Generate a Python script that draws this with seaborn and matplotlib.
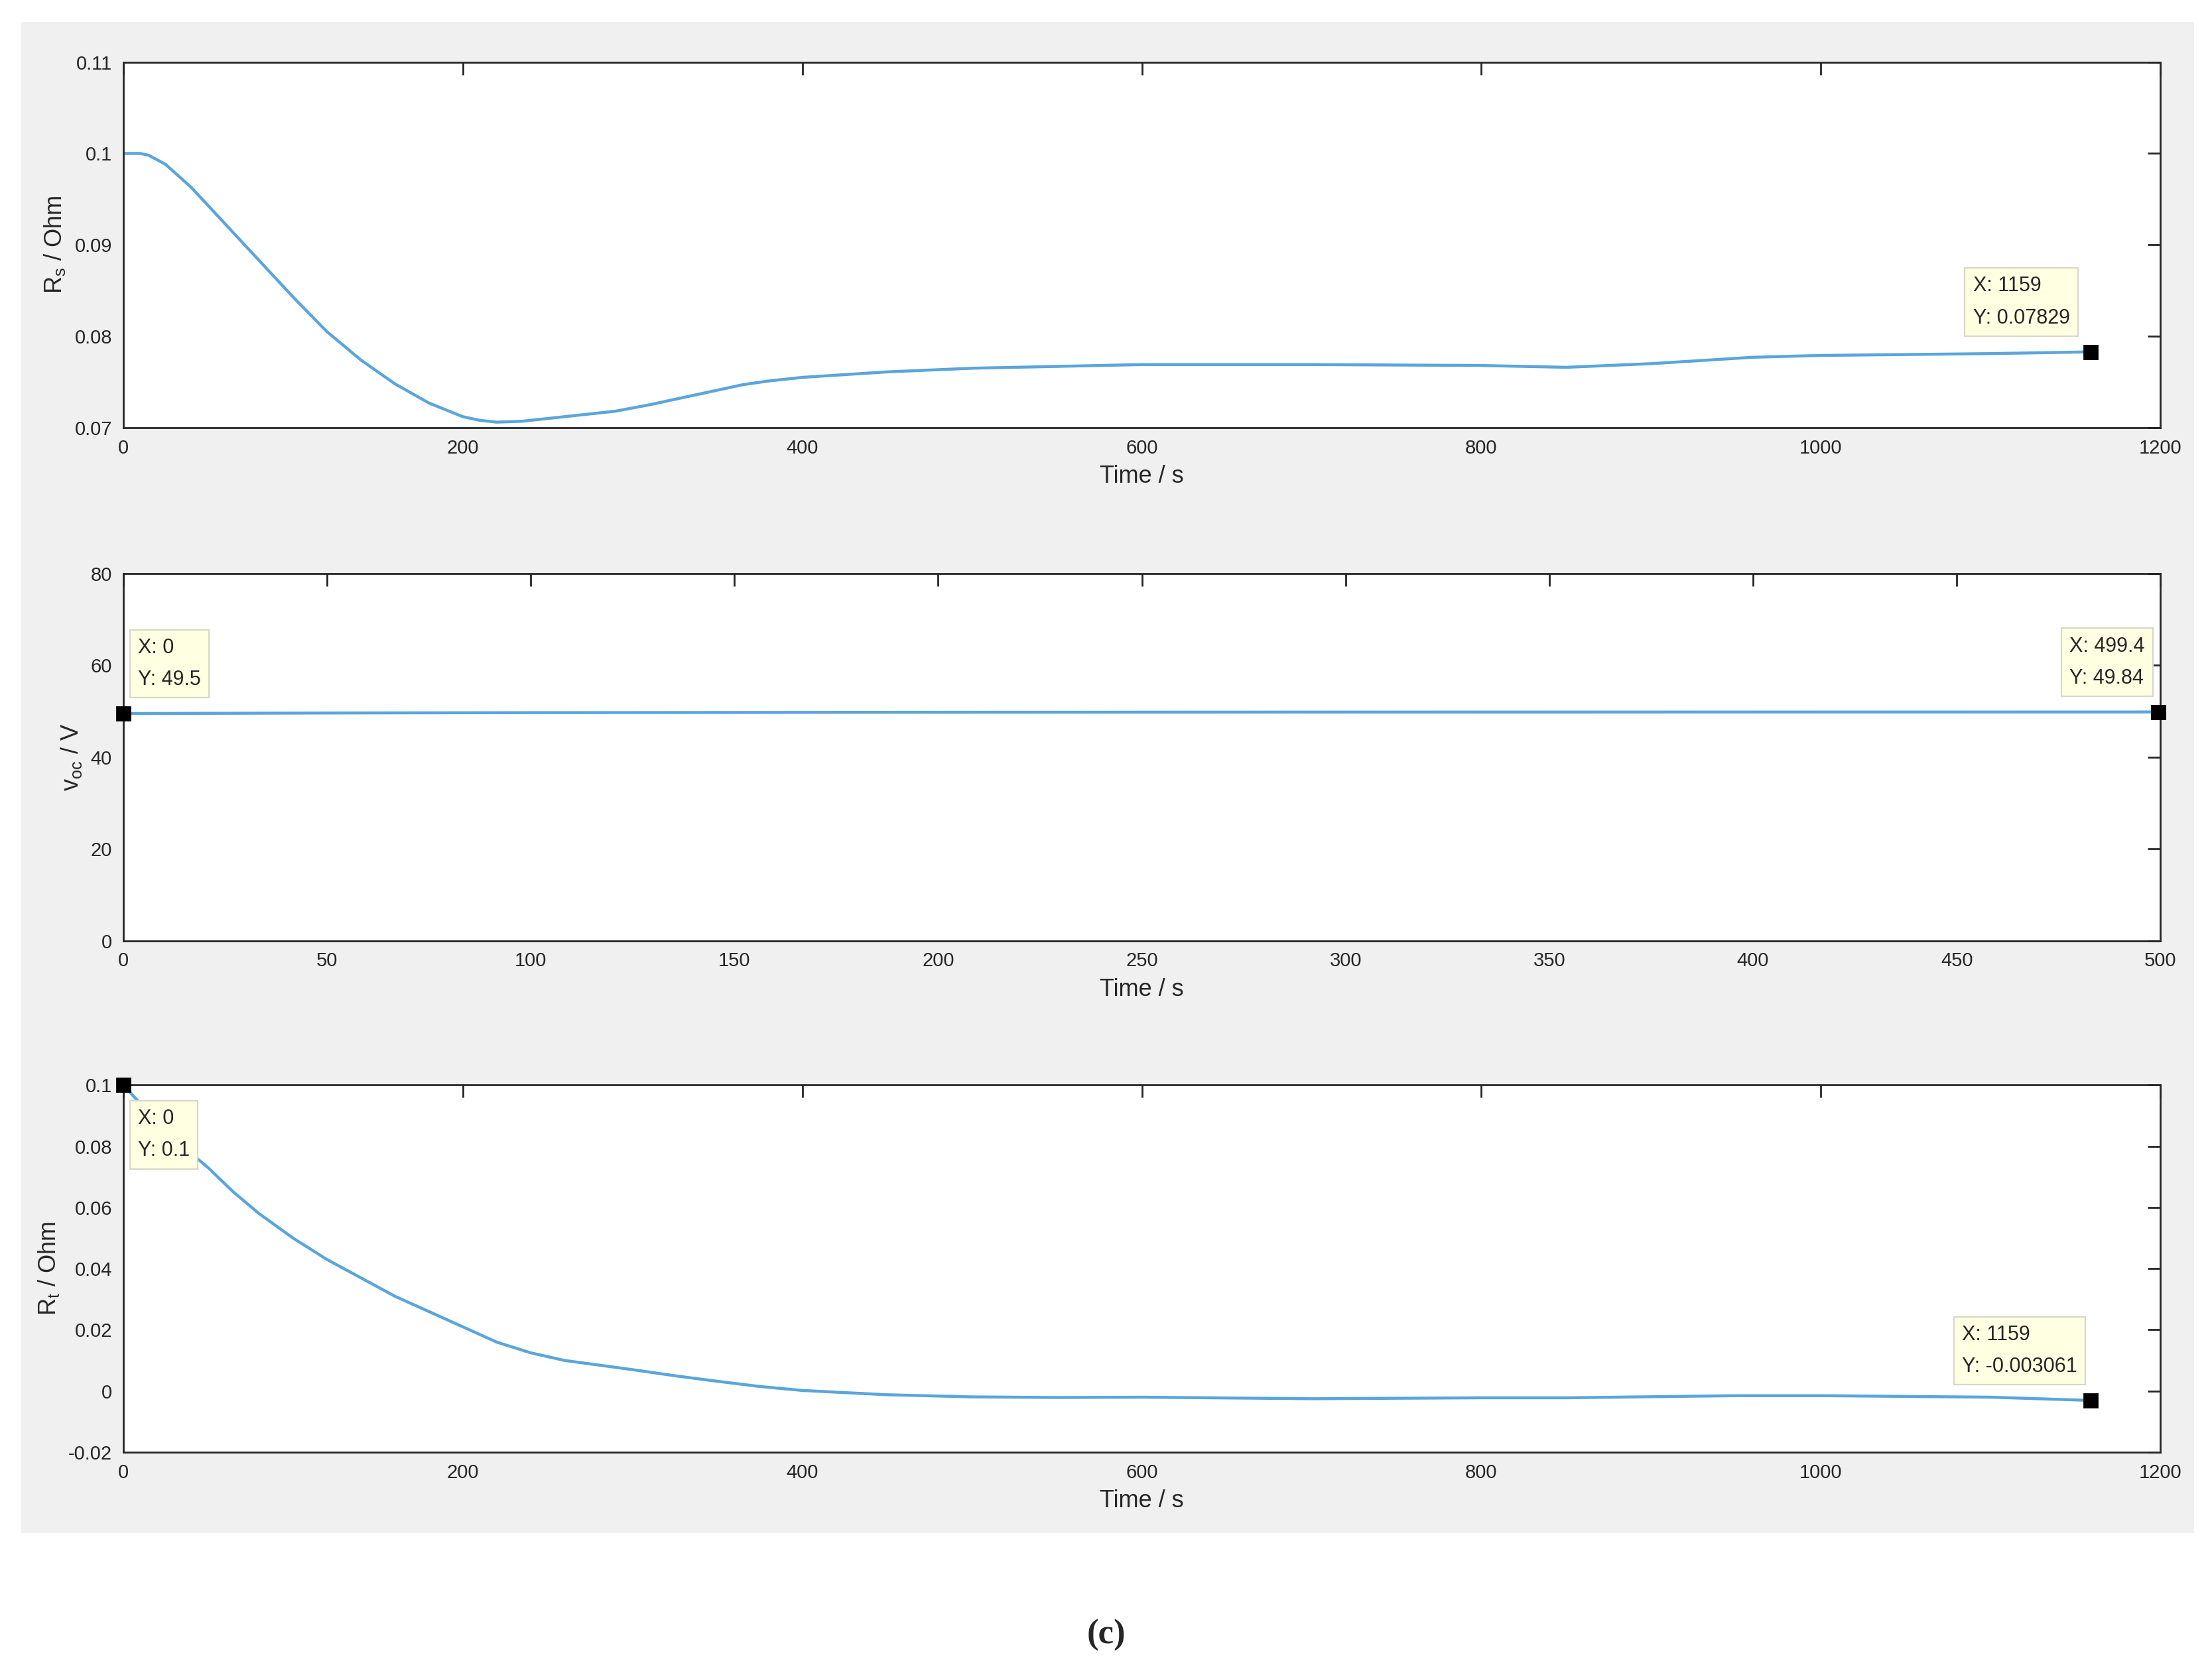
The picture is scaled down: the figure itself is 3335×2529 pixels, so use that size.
# Three stacked MATLAB-style parameter plots (Rs, voc, Rt vs time)
import numpy as np
import pandas as pd
import seaborn as sns
import matplotlib.pyplot as plt
from matplotlib.patches import Rectangle
from matplotlib.ticker import FuncFormatter

# Data
rs_time = [0, 10, 15, 25, 40, 60, 80, 100, 120, 140, 160, 180, 200, 210, 220, 235, 250,
           270, 290, 310, 330, 350, 365, 380, 400, 450, 500, 600, 700, 800, 850, 900,
           960, 1000, 1100, 1159]
rs_val = [0.1, 0.1, 0.0998, 0.0988, 0.0963, 0.0923, 0.0883, 0.0843, 0.0805, 0.0774,
          0.0748, 0.0727, 0.0712, 0.0708, 0.0706, 0.0707, 0.0710, 0.0714, 0.0718, 0.0725,
          0.0733, 0.0741, 0.0747, 0.0751, 0.0755, 0.0761, 0.0765, 0.0769, 0.0769, 0.0768,
          0.0766, 0.0770, 0.0777, 0.0779, 0.0781, 0.07829]

voc_time = [0, 50, 100, 200, 300, 400, 499.4]
voc_val = [49.5, 49.62, 49.7, 49.78, 49.82, 49.83, 49.84]

rt_time = [0, 10, 20, 35, 50, 65, 80, 100, 120, 140, 160, 180, 200, 220, 240, 260, 280,
           300, 325, 350, 375, 400, 450, 500, 550, 600, 700, 800, 850, 950, 1000, 1100,
           1159]
rt_val = [0.1, 0.094, 0.088, 0.080, 0.073, 0.065, 0.058, 0.050, 0.043, 0.037, 0.031,
          0.026, 0.021, 0.016, 0.0125, 0.010, 0.0085, 0.007, 0.005, 0.0032, 0.0015,
          0.0002, -0.0012, -0.0019, -0.0021, -0.002, -0.0025, -0.0022, -0.0022,
          -0.0015, -0.0015, -0.002, -0.003061]

sns.set_style("white")
plt.rcParams['font.family'] = ['Liberation Sans', 'DejaVu Sans']
plt.rcParams['mathtext.default'] = 'regular'

line_color = "#5aa5dc"
tip_fc = "#ffffe1"

fig = plt.figure(figsize=(16.675, 12.645), dpi=200)
fig.patches.append(Rectangle((0.0096, 0.086), 0.9824, 0.901, transform=fig.transFigure,
                             facecolor="#f0f0f0", edgecolor="none", zorder=-1))

panels = [
    dict(t=rs_time, v=rs_val, rect=[0.0557, 0.745, 0.921, 0.218], xlim=(0, 1200),
         xticks=np.arange(0, 1201, 200), ylim=(0.07, 0.11), yticks=np.arange(0.07, 0.111, 0.01),
         ylabel="R$_s$ / Ohm",
         tips=[(1159, 0.07829, "X: 1159\nY: 0.07829", (-64, 27))]),
    dict(t=voc_time, v=voc_val, rect=[0.0557, 0.439, 0.921, 0.219], xlim=(0, 500),
         xticks=np.arange(0, 501, 50), ylim=(0, 80), yticks=np.arange(0, 81, 20),
         ylabel="v$_{oc}$ / V",
         tips=[(0, 49.5, "X: 0\nY: 49.5", (8, 27)),
               (499.4, 49.84, "X: 499.4\nY: 49.84", (-48, 27))]),
    dict(t=rt_time, v=rt_val, rect=[0.0557, 0.134, 0.921, 0.219], xlim=(0, 1200),
         xticks=np.arange(0, 1201, 200), ylim=(-0.02, 0.1), yticks=np.arange(-0.02, 0.101, 0.02),
         ylabel="R$_t$ / Ohm",
         tips=[(0, 0.1, "X: 0\nY: 0.1", (8, -27)),
               (1159, -0.003061, "X: 1159\nY: -0.003061", (-70, 27))]),
]

for p in panels:
    ax = fig.add_axes(p["rect"])
    df = pd.DataFrame({"t": p["t"], "v": p["v"]})
    sns.lineplot(data=df, x="t", y="v", ax=ax, color=line_color, linewidth=1.6)
    ax.set_xlim(*p["xlim"])
    ax.set_ylim(*p["ylim"])
    ax.set_xticks(p["xticks"])
    ax.set_yticks(p["yticks"])
    ax.yaxis.set_major_formatter(FuncFormatter(lambda v, _: "%g" % round(v, 4)))
    ax.tick_params(direction="in", top=True, right=True, length=7, width=1,
                   labelsize=10.5, colors="#262626", pad=6)
    for s in ax.spines.values():
        s.set_color("#262626")
        s.set_linewidth(1)
    ax.set_xlabel("Time / s", fontsize=13, color="#262626")
    ax.set_ylabel(p["ylabel"], fontsize=13, color="#262626")
    for x, y, txt, off in p["tips"]:
        ax.plot([x], [y], marker="s", color="black", markersize=7, clip_on=False, zorder=5)
        ax.annotate(txt, (x, y), xytext=off, textcoords="offset points", fontsize=11,
                    va="center", ha="left", linespacing=1.8,
                    bbox=dict(boxstyle="square,pad=0.4", fc=tip_fc, ec="#d8d8c8", lw=0.8),
                    zorder=6)

fig.text(0.5, 0.025, "(c)", ha="center", va="center", fontsize=19, fontweight="bold",
         family=["Liberation Serif", "DejaVu Serif"])

fig.savefig("out.png", dpi=200)
